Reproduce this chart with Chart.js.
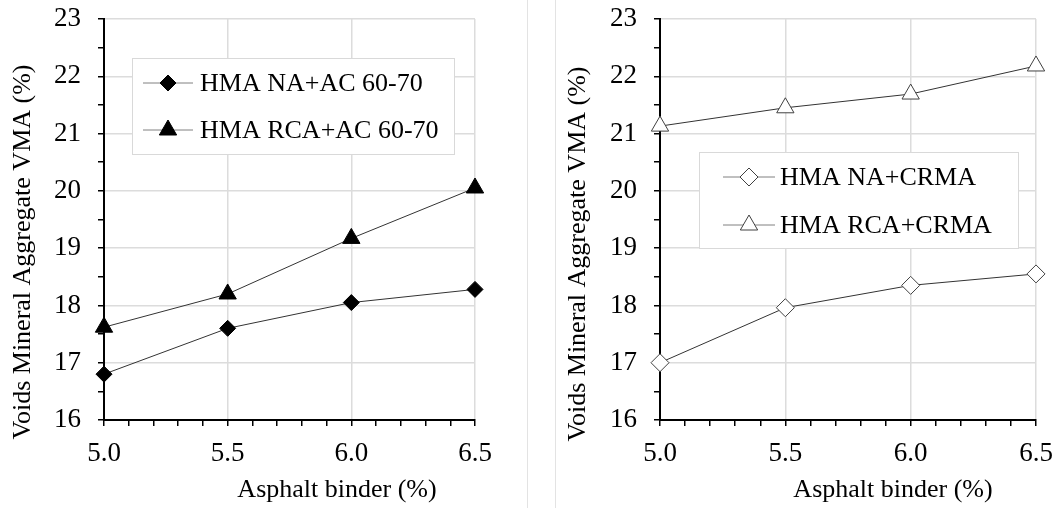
<!DOCTYPE html>
<html>
<head>
<meta charset="utf-8">
<script src="https://cdn.jsdelivr.net/npm/chart.js@4.4.1/dist/chart.umd.min.js"></script>
<style>
  html, body { margin: 0; padding: 0; background: #fff; }
  body { width: 1057px; height: 508px; position: relative; overflow: hidden; }
  canvas { position: absolute; top: 0; }
  #left { left: 0; }
  #right { left: 556px; }
  .sep { position: absolute; top: 0; width: 1px; height: 508px; background: #e3e3e3; }
</style>
</head>
<body>
<canvas id="left" width="527" height="508"></canvas>
<div class="sep" style="left:527px"></div>
<div class="sep" style="left:555px"></div>
<canvas id="right" width="501" height="508"></canvas>
<script>
// Data
const binder = [5.0, 5.5, 6.0, 6.5];              // asphalt binder (%)
const naAC = [16.80, 17.60, 18.05, 18.28];        // HMA NA+AC 60-70
const rcaAC = [17.62, 18.20, 19.17, 20.05];       // HMA RCA+AC 60-70
const naCRMA = [17.00, 17.96, 18.35, 18.55];      // HMA NA+CRMA
const rcaCRMA = [21.13, 21.45, 21.69, 22.18];     // HMA RCA+CRMA
const xLabels = [5.0, 5.5, 6.0, 6.5];             // labelled x ticks
const yLabels = [16, 17, 18, 19, 20, 21, 22, 23]; // labelled y ticks
const xTitle = "Asphalt binder (%)";
const yTitle = "Voids Mineral Aggregate VMA (%)";

const FONT = "'Liberation Serif', 'Times New Roman', serif";
Chart.defaults.font.family = FONT;
Chart.defaults.color = "#000";

const isLabel = (list, v) => list.some(l => Math.abs(l - v) < 1e-6);

function series(label, ys, style, radius, fill, edge) {
    return {
        label: label,
        data: binder.map((x, i) => ({ x: x, y: ys[i] })),
        showLine: true,
        borderColor: "#333333",
        borderWidth: 1,
        pointStyle: style,
        pointRadius: radius,
        pointHoverRadius: radius,
        pointBackgroundColor: fill,
        pointBorderColor: edge,
        pointBorderWidth: 1,
        clip: false
    };
}

function scales() {
    return {
        x: {
            type: "linear", min: 5, max: 6.5,
            border: { color: "#000", width: 2 },
            grid: {
                color: c => isLabel(xLabels, c.tick.value) ? "#dcdcdc" : "rgba(0,0,0,0)",
                lineWidth: 1.5, tickColor: "#000", tickLength: 6, tickWidth: 1.5
            },
            ticks: {
                stepSize: 0.1, autoSkip: false, maxRotation: 0, padding: 12,
                font: { size: 27 },
                callback: v => isLabel(xLabels, v) ? v.toFixed(1) : ""
            },
            afterFit: s => { s.height = 88; s.paddingLeft = 0; s.paddingRight = 0; }
        },
        y: {
            type: "linear", min: 16, max: 23,
            border: { color: "#000", width: 2 },
            grid: {
                color: c => isLabel(yLabels, c.tick.value) ? "#dcdcdc" : "rgba(0,0,0,0)",
                lineWidth: 1.5, tickColor: "#000", tickLength: 6, tickWidth: 1.5
            },
            ticks: {
                stepSize: 0.5, autoSkip: false, padding: 17,
                font: { size: 27 },
                callback: v => isLabel(yLabels, v) ? String(v) : ""
            },
            afterFit: s => { s.width = 104; s.paddingTop = 0; s.paddingBottom = 0; }
        }
    };
}

// axis titles and boxed legend, placed like the original figure
const decor = {
    id: "decor",
    afterDraw(chart, args, opts) {
        const ctx = chart.ctx;
        ctx.save();
        ctx.fillStyle = "#000";
        ctx.font = "26px " + FONT;
        ctx.textAlign = "center";
        ctx.textBaseline = "middle";
        ctx.fillText(xTitle, opts.xTitle[0], opts.xTitle[1]);
        ctx.translate(opts.yTitle[0], opts.yTitle[1]);
        ctx.rotate(-Math.PI / 2);
        ctx.fillText(yTitle, 0, 0);
        ctx.restore();

        const b = opts.legend;
        ctx.save();
        ctx.fillStyle = "#fff";
        ctx.fillRect(b.x, b.y, b.w, b.h);
        ctx.strokeStyle = "#d9d9d9";
        ctx.lineWidth = 1;
        ctx.strokeRect(b.x + 0.5, b.y + 0.5, b.w, b.h);
        chart.data.datasets.forEach((ds, i) => {
            const cy = b.rows[i];
            ctx.strokeStyle = "#808080";
            ctx.lineWidth = 1;
            ctx.beginPath();
            ctx.moveTo(b.line[0], cy);
            ctx.lineTo(b.line[1], cy);
            ctx.stroke();
            ctx.fillStyle = ds.pointBackgroundColor;
            ctx.strokeStyle = ds.pointBorderColor;
            Chart.helpers.drawPoint(ctx, { pointStyle: ds.pointStyle, radius: ds.pointRadius, rotation: 0, borderWidth: 1 },
                (b.line[0] + b.line[1]) / 2, cy);
            ctx.fillStyle = "#000";
            ctx.font = "26px " + FONT;
            ctx.textAlign = "left";
            ctx.textBaseline = "middle";
            ctx.fillText(ds.label, b.textX, cy + 1);
        });
        ctx.restore();
    }
};

function makeChart(id, datasets, padRight, decorOpts) {
    return new Chart(document.getElementById(id), {
        type: "scatter",
        data: { datasets: datasets },
        options: {
            responsive: false,
            animation: false,
            devicePixelRatio: 1,
            layout: { padding: { left: 0, top: 19, right: padRight, bottom: 0 } },
            plugins: { legend: { display: false }, tooltip: { enabled: false }, decor: decorOpts },
            scales: scales()
        },
        plugins: [decor]
    });
}

makeChart("left", [
    series("HMA NA+AC 60-70", naAC, "rectRot", 8, "#000", "#000"),
    series("HMA RCA+AC 60-70", rcaAC, "triangle", 10, "#000", "#000")
], 52, {
    xTitle: [337, 490], yTitle: [23, 252],
    legend: { x: 132, y: 58, w: 322, h: 96, rows: [83, 130], line: [143, 193], textX: 200 }
});

makeChart("right", [
    series("HMA NA+CRMA", naCRMA, "rectRot", 9, "#fff", "#404040"),
    series("HMA RCA+CRMA", rcaCRMA, "triangle", 10, "#fff", "#404040")
], 21, {
    xTitle: [337, 490], yTitle: [22, 254],
    legend: { x: 143, y: 152, w: 319, h: 96, rows: [177, 225], line: [167, 219], textX: 224 }
});
</script>
</body>
</html>
